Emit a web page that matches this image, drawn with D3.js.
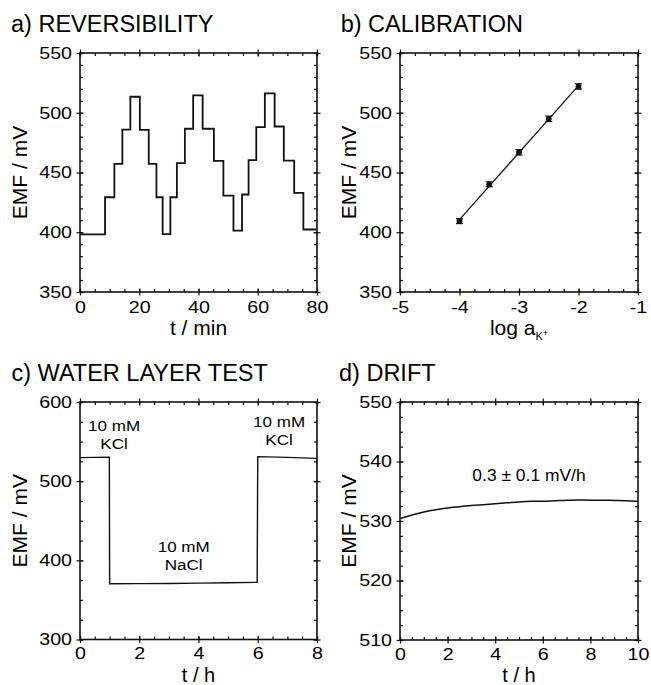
<!DOCTYPE html>
<html>
<head>
<meta charset="utf-8">
<script src="https://cdn.jsdelivr.net/npm/d3@7"></script>
<style>
  body { margin: 0; background: #fff; }
  svg { display: block; font-family: "Liberation Sans", Arial, sans-serif; }
  .tick text { fill: #000; }
</style>
</head>
<body>
<div id="chart"></div>
<script>
// a) reversibility: step breakpoints (min) and EMF level of each step (mV)
var revT = [0, 8.45, 11.6, 14.3, 17.0, 20.2, 23.2, 25.8, 27.9, 30.5, 32.7, 35.4, 38.2, 41.4,
  45.2, 48.4, 51.8, 54.7, 56.9, 59.5, 62.4, 65.7, 68.8, 72.3, 75.4, 80];
var revEmf = [398.3, 429.3, 457.3, 485.8, 513.4, 485.6, 457.3, 429.3, 398.4, 429.3, 457.8, 486.6,
  514.5, 486.6, 459.8, 430.7, 401.4, 431.6, 460.3, 487.9, 516.2, 488.5, 460.0, 433.0, 402.3];

// b) calibration
var calLogA = [-4, -3.5, -3, -2.5, -2];
var calEmf = [409.3, 440.1, 466.9, 494.9, 522.0];
var calErr = [0.8, 0.8, 1.0, 1.0, 1.0];

// c) water layer test
var wlT = [0, 0.5, 0.99, 1.0, 2, 3, 4, 5, 5.98, 6.0, 7, 8];
var wlEmf = [529.8, 530.1, 530.3, 370.5, 370.6, 370.8, 371.2, 371.6, 372.2, 531.0, 530.0, 528.8];
var wlLabels = [
  {t: 1.15, v: 563, lines: ["10 mM", "KCl"]},
  {t: 3.5, v: 411, lines: ["10 mM", "NaCl"]},
  {t: 6.72, v: 568, lines: ["10 mM", "KCl"]}
];

// d) drift
var drT = [0, 0.5, 1, 1.5, 2, 2.5, 3, 3.5, 4, 4.5, 5, 5.5, 6, 6.5, 7, 7.5, 8, 8.5, 9, 9.5, 10];
var drEmf = [530.4, 531.0, 531.5, 531.9, 532.2, 532.4, 532.6, 532.75, 532.9, 533.05, 533.2,
  533.3, 533.3, 533.4, 533.5, 533.55, 533.5, 533.5, 533.45, 533.4, 533.3];

var W = 651, H = 685;
var svg = d3.select("#chart").append("svg").attr("width", W).attr("height", H);
svg.append("rect").attr("width", W).attr("height", H).attr("fill", "#fff");

var STRETCH = 1.17; // tick labels in the figure are drawn wide
var plain = function(d) { return String(d); }; // hyphen minus like the figure

function panel(o) {
  var w = o.x1 - o.x0, h = o.y1 - o.y0;
  var low = o.y1 + 43 > H - 4; // bottom row is tight against the page edge
  var g = svg.append("g").attr("transform", "translate(" + o.x0 + "," + o.y0 + ")");
  var x = d3.scaleLinear().domain(o.xDom).range([0, w]);
  var y = d3.scaleLinear().domain(o.yDom).range([h, 0]);

  // minor ticks, pointing inward on all four sides
  g.append("g").attr("transform", "translate(0," + h + ")")
    .call(d3.axisBottom(x).tickValues(o.xMinor).tickSize(-3).tickFormat(""));
  g.append("g").call(d3.axisTop(x).tickValues(o.xMinor).tickSize(-3).tickFormat(""));
  g.append("g").call(d3.axisLeft(y).tickValues(o.yMinor).tickSize(-3).tickFormat(""));
  g.append("g").attr("transform", "translate(" + w + ",0)")
    .call(d3.axisRight(y).tickValues(o.yMinor).tickSize(-3).tickFormat(""));

  // major ticks crossing the frame, labels bottom and left
  var bx = g.append("g").attr("transform", "translate(0," + h + ")")
    .call(d3.axisBottom(x).tickValues(o.xMajor).tickSize(0).tickPadding(low ? 8 : 9.5).tickFormat(plain));
  bx.selectAll(".tick line").attr("y1", -3.5).attr("y2", 3.5);
  var tx = g.append("g").call(d3.axisTop(x).tickValues(o.xMajor).tickSize(0).tickFormat(""));
  tx.selectAll(".tick line").attr("y1", -3.5).attr("y2", 3.5);
  var ly = g.append("g")
    .call(d3.axisLeft(y).tickValues(o.yMajor).tickSize(0).tickPadding(6.8).tickFormat(plain));
  ly.selectAll(".tick line").attr("x1", -3.5).attr("x2", 3.5);
  var ry = g.append("g").attr("transform", "translate(" + w + ",0)")
    .call(d3.axisRight(y).tickValues(o.yMajor).tickSize(0).tickFormat(""));
  ry.selectAll(".tick line").attr("x1", -3.5).attr("x2", 3.5);

  [bx, ly].forEach(function(a) {
    a.selectAll(".tick text").attr("font-size", 16.8).attr("font-family", "Liberation Sans, Arial, sans-serif")
      .attr("transform", "scale(" + STRETCH + ",1)");
  });
  g.selectAll(".domain").remove();
  g.selectAll(".tick line").attr("stroke", "#111").attr("stroke-width", 1.2);

  g.append("rect").attr("width", w).attr("height", h)
    .attr("fill", "none").attr("stroke", "#111").attr("stroke-width", 1.6);

  // titles
  svg.append("text").attr("x", o.titleX).attr("y", o.y0 - 21.3).attr("font-size", 23.5)
    .text(o.title);
  svg.append("text").attr("text-anchor", "middle").attr("font-size", 21)
    .attr("transform", "translate(" + (o.x0 - o.yTitleOff) + "," + (o.y0 + h / 2) + ") rotate(-90)")
    .attr("dy", "0.35em").text("EMF / mV");
  var xt = svg.append("text").attr("text-anchor", "middle").attr("font-size", low ? 20 : 21)
    .attr("x", o.x0 + w / 2).attr("y", low ? H - 3.5 : o.y1 + 43);
  if (o.xTitle === "logA") {
    xt.append("tspan").text("log a");
    xt.append("tspan").attr("font-size", 11).attr("dy", 5).text("K");
    xt.append("tspan").attr("font-size", 9).attr("dy", -4).text("+");
  } else {
    xt.text(o.xTitle);
  }
  return {g: g, x: x, y: y};
}

// a) REVERSIBILITY
var pa = panel({x0: 80, x1: 317, y0: 53, y1: 292, xDom: [0, 80], yDom: [350, 550],
  xMajor: d3.range(0, 81, 20), xMinor: d3.range(0, 81, 5),
  yMajor: d3.range(350, 551, 50), yMinor: d3.range(350, 551, 10),
  title: "a) REVERSIBILITY", titleX: 11, xTitle: "t / min", yTitleOff: 60});
var revPts = revEmf.map(function(v, i) { return [revT[i], v]; });
revPts.push([revT[revT.length - 1], revEmf[revEmf.length - 1]]);
pa.g.append("path").datum(revPts)
  .attr("d", d3.line().x(function(d) { return pa.x(d[0]); }).y(function(d) { return pa.y(d[1]); })
    .curve(d3.curveStepAfter))
  .attr("fill", "none").attr("stroke", "#111").attr("stroke-width", 1.8);

// b) CALIBRATION
var pb = panel({x0: 400, x1: 638, y0: 53, y1: 292, xDom: [-5, -1], yDom: [350, 550],
  xMajor: d3.range(-5, -0.9, 1), xMinor: d3.range(-5, -0.9, 0.25),
  yMajor: d3.range(350, 551, 50), yMinor: d3.range(350, 551, 10),
  title: "b) CALIBRATION", titleX: 340.7, xTitle: "logA", yTitleOff: 51.5});
var mx = d3.mean(calLogA), my = d3.mean(calEmf);
var slope = d3.sum(calLogA, function(v, i) { return (v - mx) * (calEmf[i] - my); }) /
  d3.sum(calLogA, function(v) { return (v - mx) * (v - mx); });
var fitX = d3.extent(calLogA);
pb.g.append("line")
  .attr("x1", pb.x(fitX[0])).attr("y1", pb.y(my + slope * (fitX[0] - mx)))
  .attr("x2", pb.x(fitX[1])).attr("y2", pb.y(my + slope * (fitX[1] - mx)))
  .attr("stroke", "#111").attr("stroke-width", 1.2);
var pts = pb.g.selectAll(".pt").data(calLogA).enter().append("g").attr("class", "pt");
pts.append("line").attr("x1", function(d) { return pb.x(d); }).attr("x2", function(d) { return pb.x(d); })
  .attr("y1", function(d, i) { return pb.y(calEmf[i] + calErr[i]); })
  .attr("y2", function(d, i) { return pb.y(calEmf[i] - calErr[i]); })
  .attr("stroke", "#111").attr("stroke-width", 1.2);
[1, -1].forEach(function(s) {
  pts.append("line").attr("x1", function(d) { return pb.x(d) - 3.5; }).attr("x2", function(d) { return pb.x(d) + 3.5; })
    .attr("y1", function(d, i) { return pb.y(calEmf[i] + s * calErr[i]) - s * 1.5; })
    .attr("y2", function(d, i) { return pb.y(calEmf[i] + s * calErr[i]) - s * 1.5; })
    .attr("stroke", "#111").attr("stroke-width", 1.2);
});
pts.append("circle").attr("cx", function(d) { return pb.x(d); })
  .attr("cy", function(d, i) { return pb.y(calEmf[i]); }).attr("r", 2.9).attr("fill", "#111");

// c) WATER LAYER TEST
var pc = panel({x0: 80, x1: 317, y0: 402, y1: 639.5, xDom: [0, 8], yDom: [300, 600],
  xMajor: d3.range(0, 8.1, 2), xMinor: d3.range(0, 8.1, 0.5),
  yMajor: d3.range(300, 601, 100), yMinor: d3.range(300, 601, 25),
  title: "c) WATER LAYER TEST", titleX: 11.5, xTitle: "t / h", yTitleOff: 60});
pc.g.append("path").datum(wlT.map(function(t, i) { return [t, wlEmf[i]]; }))
  .attr("d", d3.line().x(function(d) { return pc.x(d[0]); }).y(function(d) { return pc.y(d[1]); }))
  .attr("fill", "none").attr("stroke", "#111").attr("stroke-width", 1.4);
wlLabels.forEach(function(l) {
  var t = pc.g.append("text").attr("text-anchor", "middle").attr("font-size", 15.5)
    .attr("transform", "translate(" + pc.x(l.t) + "," + pc.y(l.v) + ") scale(1.1,1)");
  l.lines.forEach(function(s, i) {
    t.append("tspan").attr("x", 0).attr("dy", i ? 18 : 0).text(s);
  });
});

// d) DRIFT
var pd = panel({x0: 400, x1: 638, y0: 402, y1: 640, xDom: [0, 10], yDom: [510, 550],
  xMajor: d3.range(0, 10.1, 2), xMinor: d3.range(0, 10.1, 0.5),
  yMajor: d3.range(510, 551, 10), yMinor: d3.range(510, 551, 2.5),
  title: "d) DRIFT", titleX: 339, xTitle: "t / h", yTitleOff: 51.5});
pd.g.append("path").datum(drT.map(function(t, i) { return [t, drEmf[i]]; }))
  .attr("d", d3.line().x(function(d) { return pd.x(d[0]); }).y(function(d) { return pd.y(d[1]); })
    .curve(d3.curveMonotoneX))
  .attr("fill", "none").attr("stroke", "#111").attr("stroke-width", 1.5);
pd.g.append("text").attr("text-anchor", "middle").attr("font-size", 16.3)
  .attr("transform", "translate(" + pd.x(5.42) + "," + pd.y(536.7) + ") scale(1.07,1)")
  .text("0.3 \u00b1 0.1 mV/h");
</script>
</body>
</html>
